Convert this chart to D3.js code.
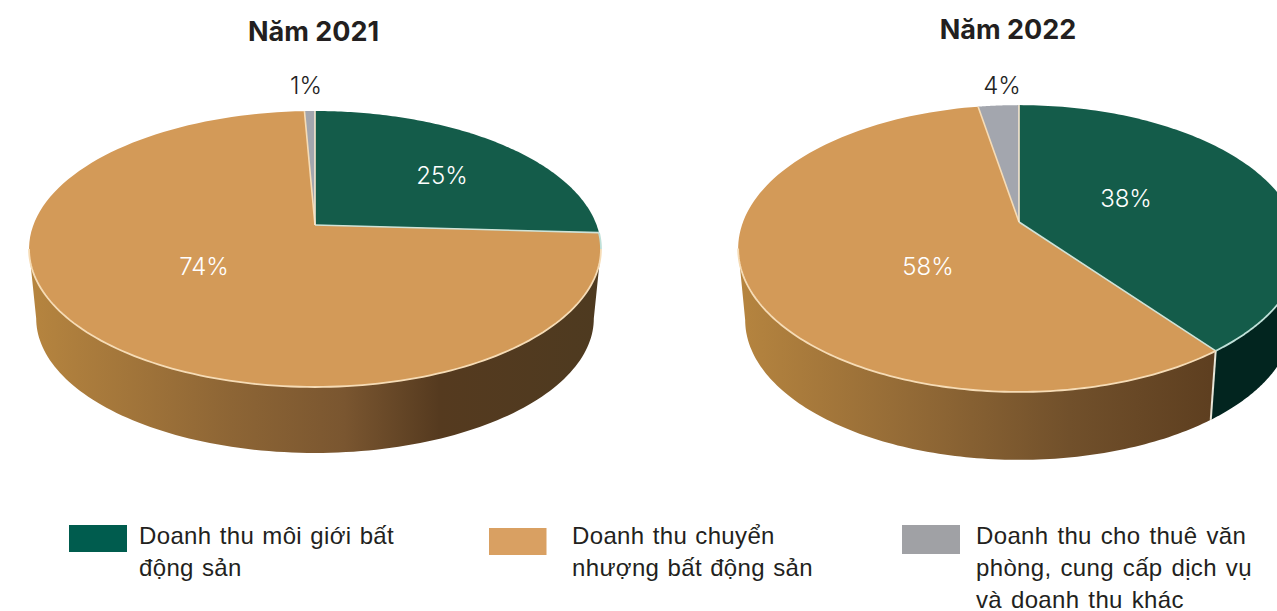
<!DOCTYPE html>
<html lang="vi">
<head>
<meta charset="utf-8">
<script src="https://cdn.jsdelivr.net/npm/d3@7/dist/d3.min.js"></script>
<style>
html,body{margin:0;padding:0;background:#fff;overflow:hidden}
svg{display:block}
</style>
</head>
<body>
<svg id="chart" width="1277" height="611"></svg>
<script>
// ---- data ----
const categories = ["Doanh thu môi giới bất động sản", "Doanh thu chuyển nhượng bất động sản", "Doanh thu cho thuê văn phòng, cung cấp dịch vụ và doanh thu khác"];
const years = ["Năm 2021", "Năm 2022"];
const labels2021 = ["25%", "74%", "1%"];
const labels2022 = ["38%", "58%", "4%"];
// Slice sizes as they are drawn in the picture (read from the slice edges)
const drawn2021 = [25.9, 73.4, 0.7];
const drawn2022 = [39.6, 57.6, 2.8];
const legendLines = [
  ["Doanh thu môi giới bất", "động sản"],
  ["Doanh thu chuyển", "nhượng bất động sản"],
  ["Doanh thu cho thuê văn", "phòng, cung cấp dịch vụ", "và doanh thu khác"]
];

// ---- styles / layout ----
const topColors = ["#145c4a", "#d39a58", "#a3a6ae"];
const swatchColors = ["#005c4e", "#d9a062", "#a0a1a5"];
const labelColors = ["#ffffff", "#ffffff", "#222222"];
const charts = [
  { title: years[0], titleX: 313.5, titleY: 41, drawn: drawn2021, labels: labels2021,
    cx: 315, ay: 225, b: 133.8, c: 281.6, k: 0.174, cy0: 249, s: 0.975, d: 69.4,
    labelXY: [[442, 175], [204, 266], [306, 85]],
    grad: [["0%", "#b5843f"], ["35%", "#8d6535"], ["55%", "#7a5630"], ["72%", "#553a1f"], ["100%", "#4e3a20"]],
    gx: [35, 597] },
  { title: years[1], titleX: 1008, titleY: 39, drawn: drawn2022, labels: labels2022,
    cx: 1019, ay: 222, b: 138.5, c: 276, k: 0.185, cy0: 248.5, s: 0.975, d: 71.5,
    labelXY: [[1126, 198], [928, 266], [1002, 85]],
    grad: [["0%", "#b5843f"], ["40%", "#8f6735"], ["70%", "#71502b"], ["100%", "#5e3f20"]],
    gx: [742, 1210] }
];

const svg = d3.select("#chart");
const defs = svg.append("defs");
const pieGen = d3.pie().sort(null).value(d => d).startAngle(0).endAngle(2 * Math.PI);
const line = d3.line();
const FONT_UI = "Inter, 'Noto Sans', sans-serif";
const FONT_LEGEND = "'Liberation Sans', Arial, sans-serif";

charts.forEach((ch, ci) => {
  const top = (t, r = 1) => {
    const u = r * Math.sin(t), v = -r * Math.cos(t), w = 1 - ch.k * v;
    return [ch.cx + ch.c * u / w, ch.ay + ch.b * v / w];
  };
  const low = t => {
    const p = top(t);
    return [ch.cx + (p[0] - ch.cx) * ch.s, ch.cy0 + (p[1] - ch.cy0) * ch.s + ch.d];
  };
  const sample = (a, b, n = 120) => d3.range(n + 1).map(i => a + (b - a) * i / n);

  // angle of the left and right silhouette of the rim (widest point of the ellipse)
  const vExt = (ch.cy0 - ch.ay) / (ch.b + ch.k * (ch.cy0 - ch.ay));
  const tR = Math.acos(-vExt), tL = 2 * Math.PI - tR;

  const arcs = pieGen(ch.drawn);
  const gid = "wall" + ci;
  const lg = defs.append("linearGradient").attr("id", gid).attr("gradientUnits", "userSpaceOnUse")
    .attr("x1", ch.gx[0]).attr("x2", ch.gx[1]).attr("y1", 0).attr("y2", 0);
  lg.selectAll("stop").data(ch.grad).join("stop").attr("offset", d => d[0]).attr("stop-color", d => d[1]);

  const g = svg.append("g");

  // side walls: first slice (dark green) and second slice (brown gradient)
  const wall = (a, b, fill) => {
    if (b <= a) return;
    const ts = sample(a, b);
    g.append("path")
      .attr("d", line([...ts.map(t => top(t)), ...ts.slice().reverse().map(low)]) + "Z")
      .attr("fill", fill);
  };
  wall(Math.max(arcs[0].startAngle, tR), arcs[0].endAngle, "#02251f");
  wall(Math.max(arcs[1].startAngle, tR), Math.min(arcs[1].endAngle, tL), `url(#${gid})`);

  // separator between the walls
  if (arcs[0].endAngle > tR) {
    g.append("path").attr("d", line([top(arcs[0].endAngle), low(arcs[0].endAngle)]))
      .attr("stroke", "#e8e6d8").attr("stroke-width", 2).attr("fill", "none");
  }

  // top faces
  arcs.forEach((a, i) => {
    const ts = sample(a.startAngle, a.endAngle);
    g.append("path")
      .attr("d", line([top(0, 0).map(x => x), ...ts.map(t => top(t))]) + "Z")
      .attr("fill", topColors[i]);
  });

  // slice edges
  const edgeColors = ["#cfe3d8", "#f6dcb6", "#f6e6cf"];
  arcs.forEach((a, i) => {
    g.append("path").attr("d", line([top(0, 0), top(a.endAngle)]))
      .attr("stroke", edgeColors[i]).attr("stroke-width", 1.6).attr("fill", "none");
  });
  const rim = (a, b, color) => {
    g.append("path").attr("d", line(sample(a, b).map(t => top(t))))
      .attr("stroke", color).attr("stroke-width", 1.8).attr("fill", "none");
  };
  rim(Math.max(arcs[0].startAngle, tR), arcs[0].endAngle, "#bfe0d8");
  rim(Math.max(arcs[1].startAngle, tR), Math.min(arcs[1].endAngle, tL), "#f6dcb6");

  // title
  svg.append("text").attr("x", ch.titleX).attr("y", ch.titleY).attr("text-anchor", "middle")
    .attr("font-family", FONT_UI).attr("font-weight", 700).attr("font-size", 27)
    .attr("fill", "#231f20").text(ch.title);

  // slice labels
  svg.append("g").selectAll("text").data(ch.labels).join("text")
    .attr("x", (d, i) => ch.labelXY[i][0])
    .attr("y", (d, i) => ch.labelXY[i][1])
    .attr("dy", "0.36em")
    .attr("text-anchor", "middle")
    .attr("font-family", FONT_UI).attr("font-weight", 300).attr("font-size", 24)
    .attr("fill", (d, i) => labelColors[i]).text(d => d);
});

// ---- legend ----
const legendPos = [
  { sx: 69, sy: 525, sw: 58, sh: 27, tx: 139, ws: 1.2 },
  { sx: 489, sy: 528, sw: 57.5, sh: 27, tx: 572, ws: 1.2 },
  { sx: 902, sy: 525, sw: 58, sh: 29, tx: 976, ws: 1.9 }
];
const legend = svg.append("g").selectAll("g").data(categories).join("g");
legend.append("rect")
  .attr("x", (d, i) => legendPos[i].sx).attr("y", (d, i) => legendPos[i].sy)
  .attr("width", (d, i) => legendPos[i].sw).attr("height", (d, i) => legendPos[i].sh)
  .attr("fill", (d, i) => swatchColors[i]);
legend.each(function (d, i) {
  d3.select(this).selectAll("text").data(legendLines[i]).join("text")
    .attr("x", legendPos[i].tx)
    .attr("y", (l, j) => 544 + j * 32)
    .attr("font-family", FONT_LEGEND).attr("font-size", 24)
    .attr("letter-spacing", 0.35)
    .attr("word-spacing", legendPos[i].ws)
    .attr("fill", "#231f20").text(l => l);
});
</script>
</body>
</html>
